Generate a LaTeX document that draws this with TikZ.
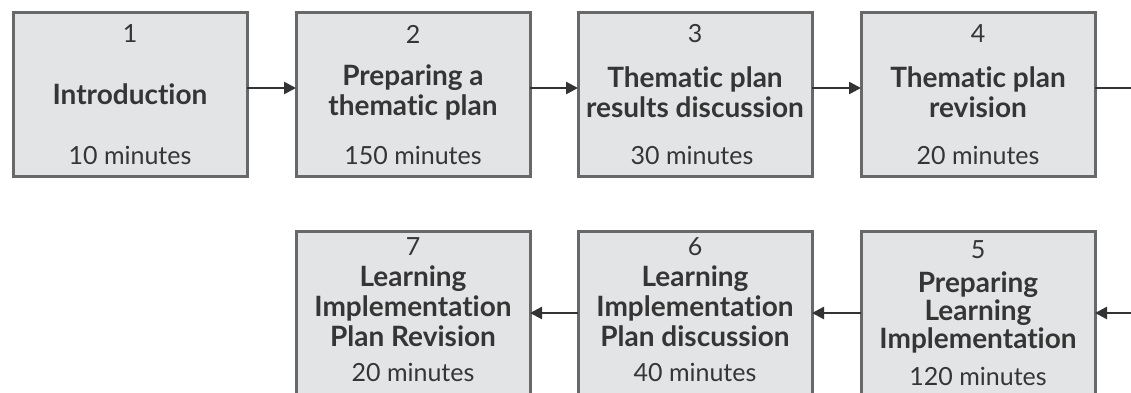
\documentclass[tikz,border=0pt]{standalone}
\usepackage{fontspec}
\setmainfont{Lato}[Ligatures=NoCommon]
\usetikzlibrary{arrows.meta}
\definecolor{boxfill}{HTML}{E3E4E6}
\definecolor{boxline}{HTML}{686868}
\definecolor{txt}{HTML}{353535}
\definecolor{arrline}{HTML}{333333}
\tikzset{
  stepbox/.style={draw=boxline, line width=3pt, fill=boxfill, minimum width=234pt, minimum height=164pt, inner sep=0pt, outer sep=0pt},
  numtxt/.style={text=txt, font=\fontsize{25}{28}\selectfont, inner sep=0pt},
  titletxt/.style={text=txt, font=\fontsize{28}{30}\selectfont\bfseries, align=center, inner sep=0pt},
  mintxt/.style={text=txt, font=\fontsize{25}{28}\selectfont, inner sep=0pt},
  arr/.style={draw=arrline, line width=2.5pt, -{Triangle[length=12pt,width=12pt]}},
  plainline/.style={draw=arrline, line width=2.5pt},
}
\begin{document}
\begin{tikzpicture}[x=1pt,y=-1pt]
\useasboundingbox (0,0) rectangle (1131,392);
% top row
\node[stepbox] (b1) at (130,94) {};
\node[stepbox] (b2) at (413,94) {};
\node[stepbox] (b3) at (695,94) {};
\node[stepbox] (b4) at (978,94) {};
% bottom row
\node[stepbox] (b7) at (413,313) {};
\node[stepbox] (b6) at (695,313) {};
\node[stepbox] (b5) at (978,313) {};
% texts top row
\node[numtxt] (n1) at (130,34) {1};
\node[titletxt] (t1) at (130,94) {Introduction};
\node[mintxt] (m1) at (130,155) {10 minutes};
\node[numtxt] (n2) at (413,34) {2};
\node[titletxt] (t2) at (413,92) {Preparing a\\thematic plan};
\node[mintxt] (m2) at (413,155) {150 minutes};
\node[numtxt] (n3) at (695,34) {3};
\node[titletxt] (t3) at (695,92) {Thematic plan\\results discussion};
\node[mintxt] (m3) at (692,155) {30 minutes};
\node[numtxt] (n4) at (978,34) {4};
\node[titletxt] (t4) at (978,92) {Thematic plan\\revision};
\node[mintxt] (m4) at (978,155) {20 minutes};
% texts bottom row
\node[numtxt] (n5) at (978,250) {5};
\node[titletxt, font=\fontsize{28}{28}\selectfont\bfseries] (t5) at (978,312) {Preparing\\Learning\\Implementation};
\node[mintxt] (m5) at (978,376) {120 minutes};
\node[numtxt] (n6) at (695,247) {6};
\node[titletxt] (t6) at (695,306) {Learning\\Implementation\\Plan discussion};
\node[mintxt] (m6) at (695,372) {40 minutes};
\node[numtxt] (n7) at (413,247) {7};
\node[titletxt] (t7) at (413,306) {Learning\\Implementation\\Plan Revision};
\node[mintxt] (m7) at (413,372) {20 minutes};
% connectors
\coordinate (outR) at (1131,88);
\coordinate (inR) at (1131,313);
\draw[arr] ([yshift=6pt]b1.east) -- ([yshift=6pt]b2.west);
\draw[arr] ([yshift=6pt]b2.east) -- ([yshift=6pt]b3.west);
\draw[arr] ([yshift=6pt]b3.east) -- ([yshift=6pt]b4.west);
\draw[plainline] ([yshift=6pt]b4.east) -- (outR);
\draw[arr] (inR) -- (b5.east);
\draw[arr] (b5.west) -- (b6.east);
\draw[arr] (b6.west) -- (b7.east);
\end{tikzpicture}
\end{document}
